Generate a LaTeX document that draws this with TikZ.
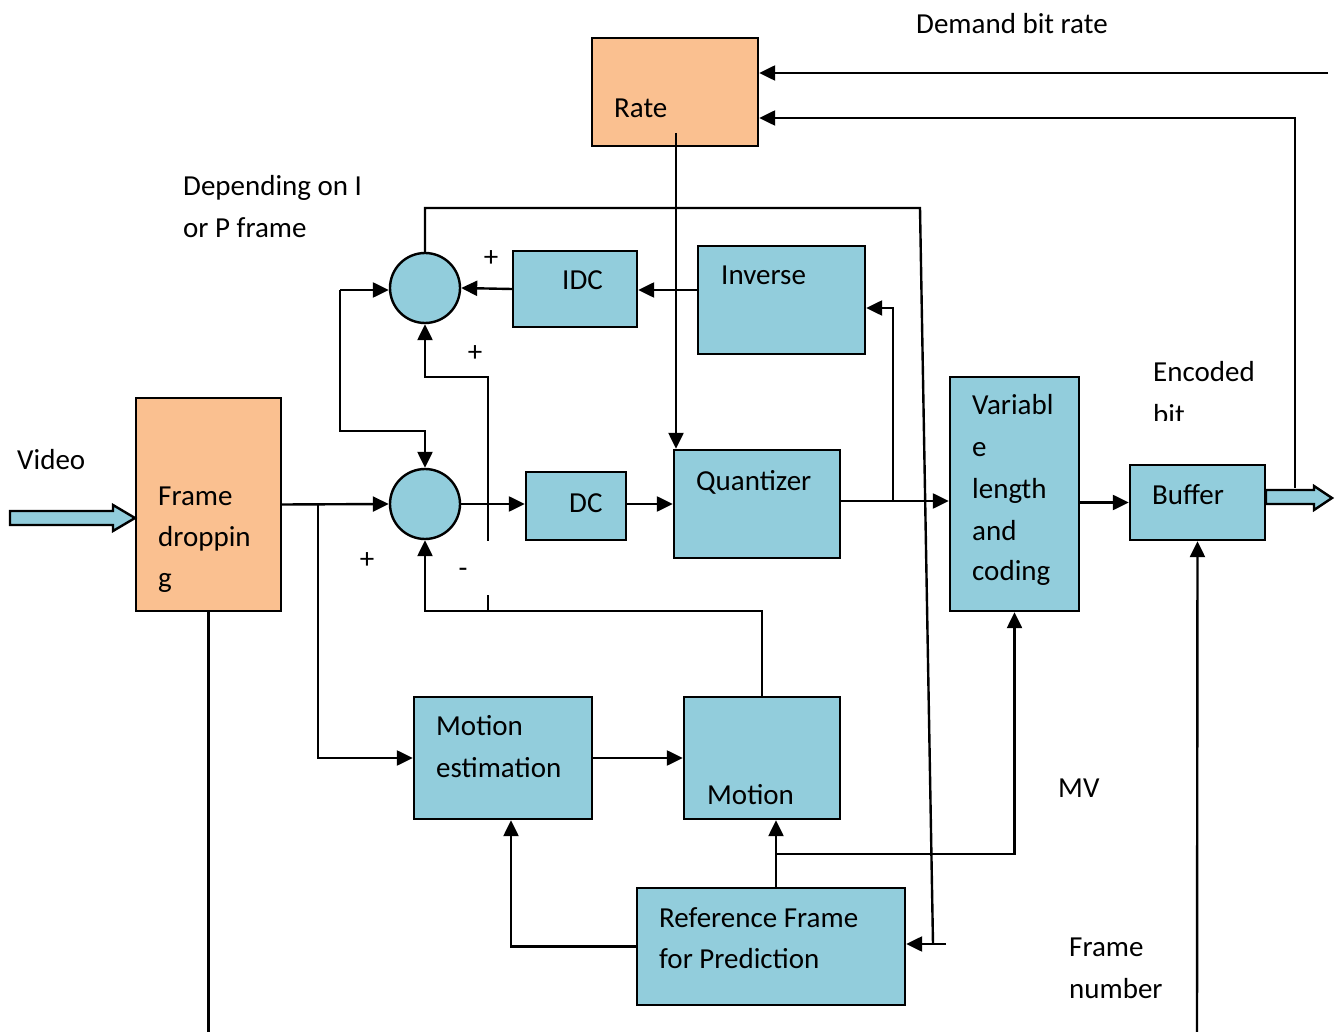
\documentclass[tikz,border=0pt]{standalone}
\usepackage{fontspec}
\setmainfont{Carlito}
\usepackage{xcolor}
\usetikzlibrary{arrows.meta,positioning}

\definecolor{blueF}{HTML}{92CDDC}
\definecolor{orangeF}{HTML}{FAC090}

\begin{document}
\begin{tikzpicture}[x=0.5pt, y=-0.5pt, line width=1.2pt,
    font=\fontsize{14.5}{17}\selectfont,
    arr/.style={-{Triangle[length=8pt,width=7.5pt]}},
    blk/.style={draw, fill=blueF, inner sep=0pt},
    org/.style={draw, fill=orangeF, inner sep=0pt},
    sum/.style={draw, circle, fill=blueF, minimum size=35pt, inner sep=0pt},
    txt/.style={anchor=base west, inner sep=0pt}]

    \useasboundingbox (0,0) rectangle (1340,1032);

    % boxes
    \node[org, minimum width=83pt, minimum height=54pt] (rate) at (675,92) {};
    \node[org, minimum width=72.5pt, minimum height=106.5pt] (frame) at (208.5,504.5) {};
    \node[blk, minimum width=62pt, minimum height=38pt] (idc) at (575,289) {};
    \node[blk, minimum width=83.5pt, minimum height=54pt] (inv) at (781.5,300) {};
    \node[blk, minimum width=50pt, minimum height=34pt] (dc) at (576,506) {};
    \node[blk, minimum width=83pt, minimum height=54pt] (quant) at (757,504) {};
    \node[blk, minimum width=64.5pt, minimum height=117pt] (vlc) at (1014.5,494) {};
    \node[blk, minimum width=67.5pt, minimum height=37.5pt] (buf) at (1197.5,502.5) {};
    \node[blk, minimum width=89pt, minimum height=61pt] (me) at (503,758) {};
    \node[blk, minimum width=78pt, minimum height=61pt] (mot) at (762,758) {};
    \node[blk, minimum width=134pt, minimum height=58.5pt] (ref) at (771,946.5) {};
    \node[sum] (sumA) at (425,288) {};
    \node[sum] (sumB) at (425,504) {};

    % texts
    \node[txt] (tRate) at (613,118) {Rate};
    \node[txt] (tDem) at (915,34) {Demand bit rate};
    \node[txt] (tDep1) at (182,196) {Depending on I};
    \node[txt] (tDep2) at (182,238) {or P frame};
    \node[txt] (tIdc) at (561,290) {IDC};
    \node[txt] (tDc) at (568,512) {DC};
    \node[txt] (tInv) at (720,285) {Inverse};
    \node[txt] (tQuant) at (695,490) {Quantizer};
    \node[txt] (tBuf) at (1151,504) {Buffer};
    \node[txt] (tVideo) at (16,470) {Video};
    \node[txt] (tFr1) at (157,505) {Frame};
    \node[txt] (tFr2) at (157,546) {droppin};
    \node[txt] (tFr3) at (157,587) {g};
    \node[txt] (tV1) at (971,415) {Variabl};
    \node[txt] (tV2) at (971,457) {e};
    \node[txt] (tV3) at (971,498) {length};
    \node[txt] (tV4) at (971,540) {and};
    \node[txt] (tV5) at (971,581) {coding};
    \node[txt] (tEnc) at (1152,382) {Encoded};
    \begin{scope}
        \clip (1140,340) rectangle (1280,421);
        \node[txt] (tBit) at (1152,424) {bit};
    \end{scope}
    \node[txt] (tMe1) at (435,735) {Motion};
    \node[txt] (tMe2) at (435,777) {estimation};
    \node[txt] (tMot) at (706,804) {Motion};
    \node[txt] (tRef1) at (658,927) {Reference Frame};
    \node[txt] (tRef2) at (658,968) {for Prediction};
    \node[txt] (tMV) at (1057,797) {MV};
    \node[txt] (tFn1) at (1068,956) {Frame};
    \node[txt] (tFn2) at (1068,998) {number};
    \node (p1) at (491,259) {+};
    \node (p2) at (475,354) {+};
    \node (p3) at (367,561) {+};

    % connectors
    \coordinate (dem) at (1328,73);
    \coordinate (fb) at (1295,488);
    \coordinate (rq) at (676,133);
    \coordinate (tr) at (920,208);
    \coordinate (br) at (933,944);
    \coordinate (brr) at (946,944);
    \coordinate (lt) at (340,290);
    \coordinate (mp) at (488,611);
    \coordinate (fork) at (318,504);
    \coordinate (qf) at (893,501);
    \coordinate (fn) at (1197,1032);
    \coordinate (rm) at (776,888);
    \coordinate (rv) at (776,854);

    \draw[arr] (dem) -- (dem -| rate.east);
    \draw[arr] (fb) -- (1295,118) -- (rate.east |- 0,118);
    \draw[arr] (rq) -- (rq |- quant.north);
    \draw (sumA.north) |- (tr) -- (br);
    \draw[arr] (brr) -- (brr -| ref.east);
    \draw[arr] (inv.west |- 0,290) -- (idc.east |- 0,290);
    \draw[arr] (idc.west) -- (sumA.east);
    \draw[arr] (lt) -- (lt -| sumA.west);
    \draw[arr] (lt) -- (340,431) -| (sumB.north);
    \draw[arr] (mp) -- (488,377) -| (sumA.south);
    \draw[arr] (mot.north) -- (mot.north |- mp) -- (sumB.south |- mp) -- (sumB.south);
    \draw[arr] (frame.east) -- (sumB.west);
    \draw[arr] (fork) |- (me.west);
    \draw[arr] (sumB.east) -- (dc.west |- 0,504);
    \draw[arr] (dc.east |- 0,504) -- (quant.west |- 0,504);
    \draw[arr] (quant.east |- qf) -- (vlc.west |- qf);
    \draw[arr] (qf) |- (inv.east |- 0,308);
    \draw[arr] (vlc.east |- buf) -- (buf.west);
    \draw[arr] (fn) -- (buf.south);
    \draw (frame.south) -- (frame.south |- fn);
    \draw[arr] (me.east) -- (mot.west);
    \draw[arr] (rm) -- (rm |- mot.south);
    \draw[arr] (rv) -| (vlc.south);
    \draw[arr] (ref.west) -| (me.south -| 511,0);

    \fill[white] (439,541) rectangle (489,595);
    \node (m1) at (463,573) {-};

    % block arrows
    \draw[fill=blueF] (10,511) -- (113,511) -- (113,505) -- (135,518) -- (113,531)
        -- (113,525) -- (10,525) -- cycle;
    \draw[fill=blueF] (1266,490) -- (1314,490) -- (1314,486) -- (1332,498) -- (1314,510)
        -- (1314,504) -- (1266,504) -- cycle;

\end{tikzpicture}
\end{document}
